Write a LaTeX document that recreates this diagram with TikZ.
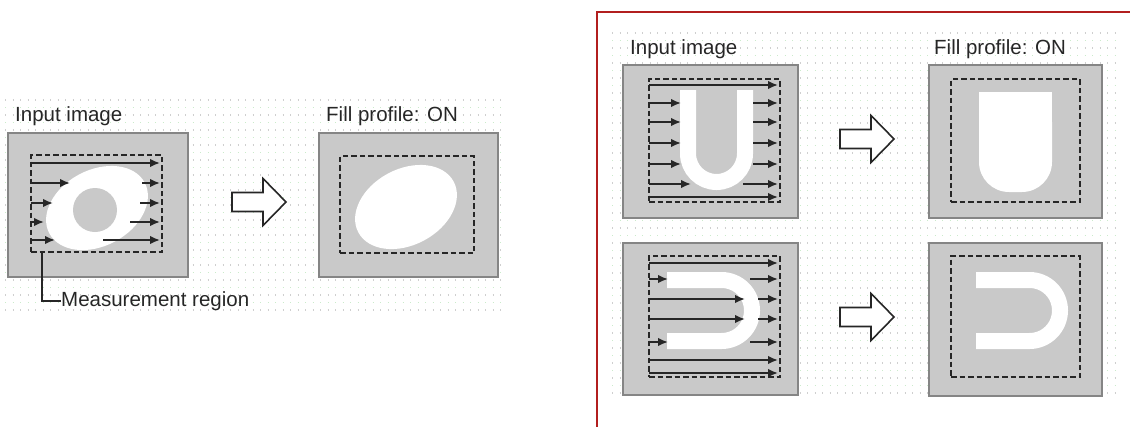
\documentclass[tikz,border=0pt]{standalone}
\usepackage{fontspec}
\setmainfont{Liberation Sans}
\usetikzlibrary{arrows.meta,calc}

\definecolor{boxgray}{HTML}{C9C9C9}
\definecolor{boxedge}{HTML}{858585}
\definecolor{ink}{HTML}{262626}
\definecolor{dotA}{HTML}{CFCFCF}
\definecolor{dotB}{HTML}{CBEBCB}
\definecolor{framered}{HTML}{B21F1F}

\begin{document}
\begin{tikzpicture}[x=1pt,y=-1pt,
  imgbox/.style={draw=boxedge,fill=boxgray,line width=1.8pt,inner sep=0pt},
  region/.style={draw=ink,line width=2pt,dash pattern=on 5.5pt off 3pt,inner sep=0pt},
  scan/.style={draw=ink,line width=1.8pt,-{Latex[length=10pt,width=8.5pt]}},
  lbl/.style={text=ink,inner sep=0pt,font=\fontsize{20.5}{24}\selectfont},
  leader/.style={draw=ink,line width=1.5pt},
  dotrow/.style={line width=1.4pt,dash pattern=on 1.4pt off 6.1pt},
  whiteband/.style={draw=white,line width=16pt,line cap=butt},
  frame/.style={draw=framered,line width=2.2pt},
  hollowarr/.pic={
    \draw[draw=ink,line width=1.6pt,fill=white,line join=miter]
      (-27,-9.5) -- (4,-9.5) -- (4,-23.5) -- (27,0) -- (4,23.5) -- (4,9.5) -- (-27,9.5) -- cycle;
  }]
\useasboundingbox (0,0) rectangle (1130,426);

% ---------- dotted grid backgrounds ----------
\foreach \i in {0,...,28}{
  \pgfmathsetmacro\yy{100+7.5*\i}
  \pgfmathtruncatemacro\odd{mod(\i,2)}
  \ifnum\odd=0 \def\dc{dotA}\else\def\dc{dotB}\fi
  \draw[dotrow,draw=\dc] (5,\yy) -- (505,\yy);
}
\foreach \i in {0,...,48}{
  \pgfmathsetmacro\yy{33+7.5*\i}
  \pgfmathtruncatemacro\odd{mod(\i,2)}
  \ifnum\odd=0 \def\dc{dotA}\else\def\dc{dotB}\fi
  \draw[dotrow,draw=\dc] (612,\yy) -- (1115,\yy);
}

% ---------- frame around the second example ----------
\draw[frame] (597,430) -- (597,12) -- (1134,12);

% ---------- left example: ellipse with a hole ----------
\node[lbl,anchor=base west] (tInL) at (15,121) {Input image};
\node[lbl,anchor=base west] (tOutL) at (326,121) {Fill profile: ON};

\node[imgbox,minimum width=180,minimum height=144] (inL) at (98,205) {};
\node[imgbox,minimum width=179,minimum height=144] (outL) at (408.5,205) {};

\fill[white,rotate around={28:(97,208)}] (97,208) ellipse [x radius=54, y radius=38];
\fill[boxgray] (95,210) circle [radius=22];
\fill[white,rotate around={28:(406,207)}] (406,207) ellipse [x radius=54, y radius=38];

\node[region,minimum width=131,minimum height=97] (regL) at (96.5,203.5) {};
\node[region,minimum width=134,minimum height=97] (regLo) at (407,204.5) {};

\draw[scan] (31,163) -- (160,163);
\draw[scan] (31,183) -- (70,183);
\draw[scan] (142,183) -- (160,183);
\draw[scan] (31,203) -- (53,203);
\draw[scan] (140,203) -- (160,203);
\draw[scan] (31,222) -- (44,222);
\draw[scan] (130,222) -- (160,222);
\draw[scan] (31,240) -- (55,240);
\draw[scan] (103,240) -- (160,240);

\node[lbl,anchor=west] (mrLbl) at (61,301) {Measurement region};
\draw[leader] ($(regL.south west)+(12,0)$) |- (mrLbl.west);

\pic (hA) at (259,202) {hollowarr};

% ---------- right example, top row: U shape ----------
\node[lbl,anchor=base west] (tInR) at (630,54) {Input image};
\node[lbl,anchor=base west] (tOutR) at (934,54) {Fill profile: ON};

\node[imgbox,minimum width=175,minimum height=153] (inR1) at (710.5,141.5) {};
\node[imgbox,minimum width=173,minimum height=153] (outR1) at (1015.5,141.5) {};

\draw[whiteband,rounded corners=28.5pt] (688,90) -- (688,182) -- (745,182) -- (745,90);
\fill[white,rounded corners=30pt] (979,92) rectangle (1052,192);
\fill[white] (979,92) rectangle (1052,150);

\node[region,minimum width=131,minimum height=123] (regR1) at (714.5,140.5) {};
\node[region,minimum width=129,minimum height=123] (regR1o) at (1015.5,140.5) {};

\draw[scan] (649,85) -- (778,85);
\foreach \yy in {103,122,143,164}{
  \draw[scan] (649,\yy) -- (681,\yy);
  \draw[scan] (753,\yy) -- (778,\yy);
}
\draw[scan] (649,184) -- (691,184);
\draw[scan] (743,184) -- (778,184);
\draw[scan] (649,197) -- (778,197);

\pic (hB) at (867,139) {hollowarr};

% ---------- right example, bottom row: sideways U ----------
\node[imgbox,minimum width=175,minimum height=152] (inR2) at (710.5,319) {};
\node[imgbox,minimum width=173,minimum height=153] (outR2) at (1015.5,319.5) {};

\draw[whiteband,rounded corners=30.5pt] (667,280) -- (752,280) -- (752,341) -- (667,341);
\draw[whiteband,rounded corners=30.5pt] (976,280) -- (1060,280) -- (1060,341) -- (976,341);

\node[region,minimum width=131,minimum height=121] (regR2) at (714.5,316.5) {};
\node[region,minimum width=129,minimum height=121] (regR2o) at (1015.5,316.5) {};

\draw[scan] (649,263) -- (778,263);
\draw[scan] (649,279) -- (668,279);
\draw[scan] (750,279) -- (778,279);
\draw[scan] (649,299) -- (745,299);
\draw[scan] (758,299) -- (778,299);
\draw[scan] (649,319) -- (745,319);
\draw[scan] (758,319) -- (778,319);
\draw[scan] (649,342) -- (668,342);
\draw[scan] (750,342) -- (778,342);
\draw[scan] (649,360) -- (778,360);
\draw[scan] (649,373) -- (778,373);

\pic (hC) at (867,317) {hollowarr};
\end{tikzpicture}
\end{document}
